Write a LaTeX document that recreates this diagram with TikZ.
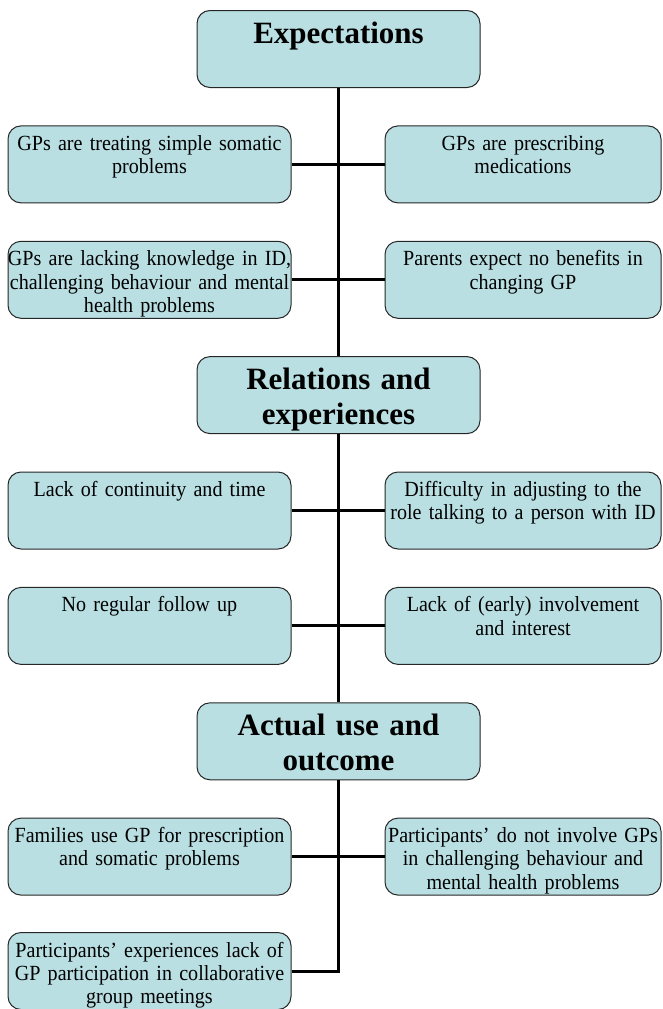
\documentclass[tikz,border=0pt]{standalone}
\usepackage{fontspec}
\setmainfont{Liberation Serif}
\newfontfamily\bodyfont{Liberation Serif}[FakeStretch=0.93,WordSpace=0.8]
\definecolor{boxfill}{HTML}{B9DFE3}
\begin{document}
\begin{tikzpicture}[x=1pt,y=-1pt,
  box/.style={draw=black!85, line width=1pt, fill=boxfill, rounded corners=13pt,
    inner ysep=0pt, inner xsep=-6pt, anchor=north, text width=295pt, align=center,
    font=\bodyfont\fontsize{21.6}{23.2}\selectfont, text height=24.5pt, text depth=52.5pt},
  rbox/.style={box, inner xsep=-9.5pt},
  head/.style={box, font=\fontsize{31}{35}\bfseries\selectfont, text height=33pt, text depth=44pt},
  link/.style={line width=3pt}]
\useasboundingbox (0,0) rectangle (662,1009);
% headings
\node[head] (exp) at (338.5,10) {Expectations};
\node[head] (rel) at (338.5,356.1) {Relations and\\experiences};
\node[head] (act) at (338.5,702.3) {Actual use and\\outcome};
% expectations
\node[box] (simple) at (149.5,125.4) {GPs are treating simple somatic\\problems};
\node[rbox] (medic) at (523,125.4) {GPs are prescribing\\medications};
\node[box] (lacking) at (149.5,240.8) {GPs are lacking knowledge in ID,\\challenging behaviour and mental\\health problems};
\node[rbox] (nobenefit) at (523,240.8) {Parents expect no benefits in\\changing GP};
% relations and experiences
\node[box] (contin) at (149.5,471.5) {Lack of continuity and time};
\node[rbox] (role) at (523,471.5) {Difficulty in adjusting to the\\role talking to a person with ID};
\node[box] (follow) at (149.5,586.9) {No regular follow up};
\node[rbox] (involve) at (523,586.9) {Lack of (early) involvement\\and interest};
% actual use and outcome
\node[box] (prescr) at (149.5,817.6) {Families use GP for prescription\\and somatic problems};
\node[rbox] (notinv) at (523,817.6) {Participants’ do not involve GPs\\in challenging behaviour and\\mental health problems};
\node[box] (meet) at (149.5,932) {Participants’ experiences lack of\\GP participation in collaborative\\group meetings};
% connectors
\draw[link] (exp.south) -- (rel.north);
\draw[link] (rel.south) -- (act.north);
\draw[link] (act.south) |- (meet.east);
\draw[link] (simple.east) -- (medic.west);
\draw[link] (lacking.east) -- (nobenefit.west);
\draw[link] (contin.east) -- (role.west);
\draw[link] (follow.east) -- (involve.west);
\draw[link] (prescr.east) -- (notinv.west);
\end{tikzpicture}
\end{document}
